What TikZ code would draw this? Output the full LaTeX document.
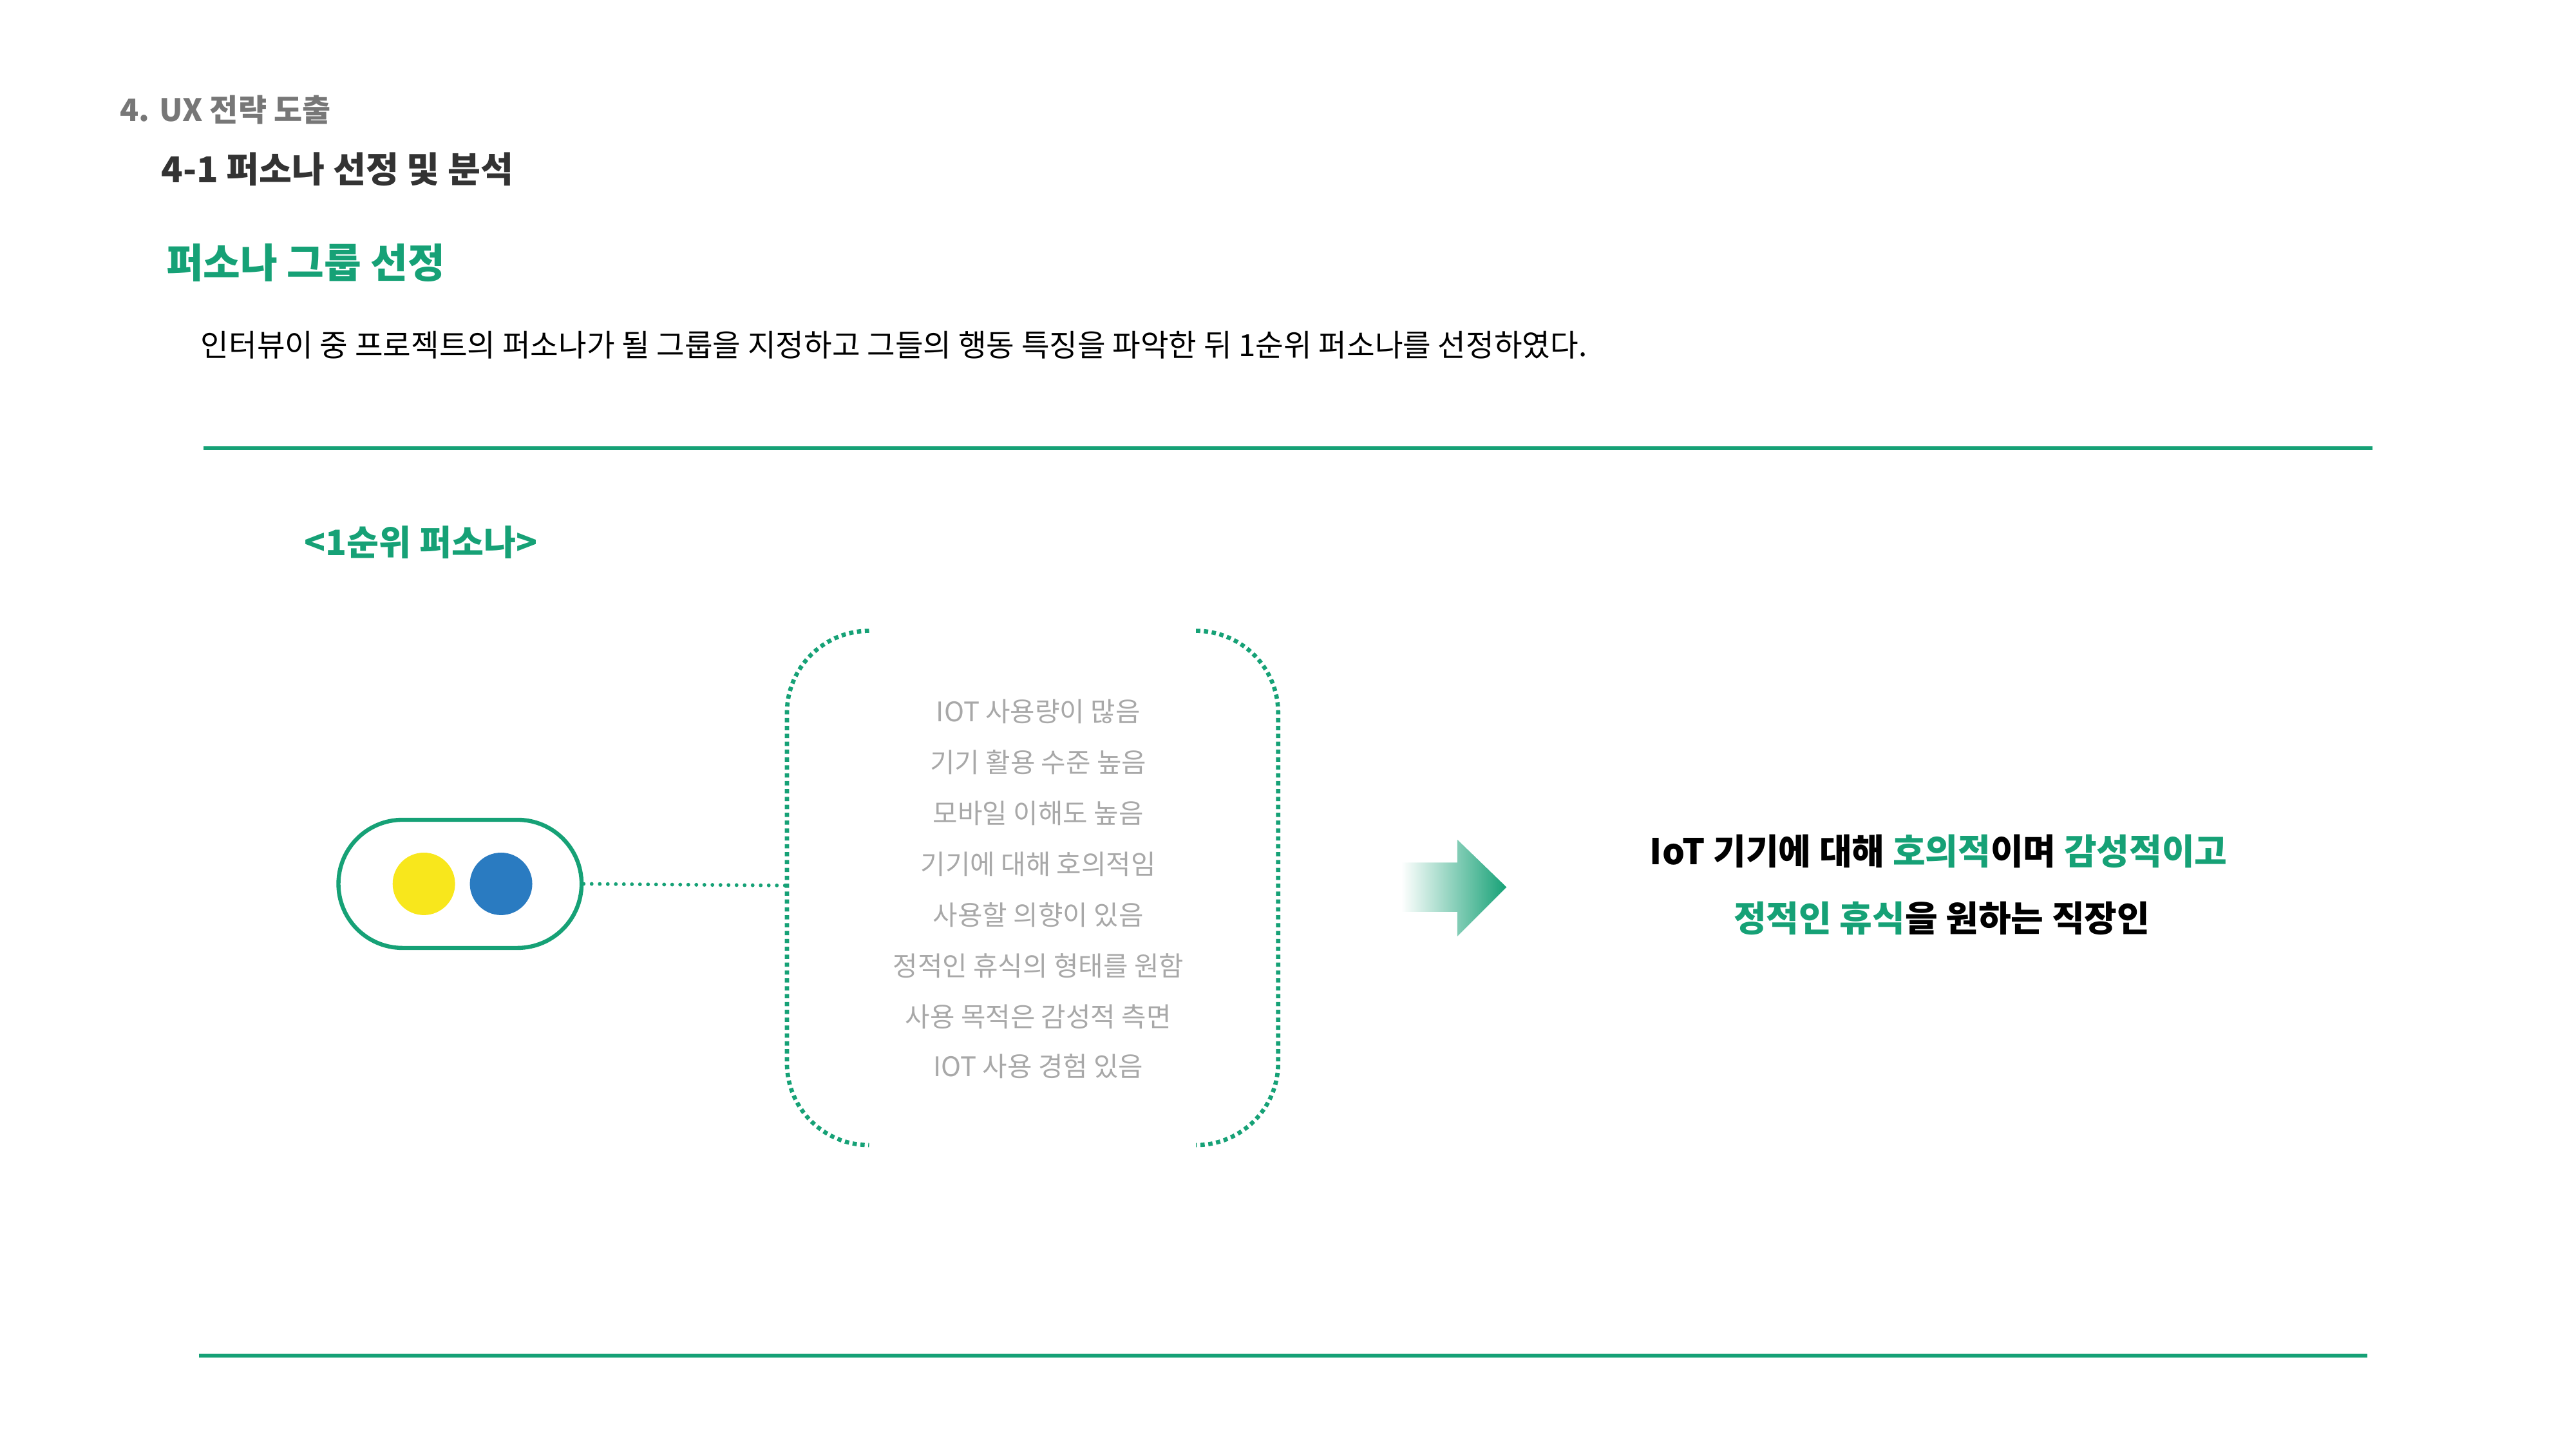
\documentclass[tikz,border=0pt]{standalone}
\usepackage{fontspec}
\setmainfont{Noto Sans CJK KR}
\definecolor{pverde}{HTML}{16A176}
\definecolor{pgris}{HTML}{777777}
\definecolor{poscuro}{HTML}{333333}
\definecolor{pclaro}{HTML}{A8A8A8}
\definecolor{pamarillo}{HTML}{F8E71C}
\definecolor{pazul}{HTML}{2A7BC1}
\tikzset{
	texto/.style={inner sep=0pt, anchor=west},
	rasgo/.style={inner sep=0pt, text=pclaro, font=\fontsize{16.4}{19}\selectfont},
	regla/.style={pverde, line width=2.4pt},
	punteado/.style={pverde, line width=2.3pt, line cap=round, dash pattern=on 0pt off 4.9pt},
	corchete/.style={pverde, line width=2.6pt, dash pattern=on 2.6pt off 2.2pt, rounded corners=50pt},
	pastilla/.style={draw=pverde, line width=2.5pt, rounded corners=39pt, minimum width=148pt, minimum height=78pt},
	bola/.style={circle, inner sep=0pt, minimum size=38pt},
	resumen/.style={inner sep=0pt, font=\bfseries\fontsize{21.6}{26}\selectfont},
}
\begin{document}
\begin{tikzpicture}[x=1pt, y=-1pt]
		\useasboundingbox (0,0) rectangle (1568,882);
		
		% Encabezados
		\node[texto, text=pgris, font=\bfseries\fontsize{18.8}{22}\selectfont] (seccion) at (73,67) {4. UX 전략 도출};
		\node[texto, text=poscuro, font=\bfseries\fontsize{21.7}{26}\selectfont] (subseccion) at (98,103) {4-1 퍼소나 선정 및 분석};
		\node[texto, text=pverde, font=\bfseries\fontsize{24.6}{29}\selectfont] (titulo) at (101,160) {퍼소나 그룹 선정};
		\node[texto, font=\fontsize{18.6}{22}\selectfont] (intro) at (122,210) {인터뷰이 중 프로젝트의 퍼소나가 될 그룹을 지정하고 그들의 행동 특징을 파악한 뒤 1순위 퍼소나를 선정하였다.};
		
		% Reglas verdes
		\draw[regla] (124,273) -- (1444,273);
		\draw[regla] (121,825) -- (1441,825);
		
		\node[texto, text=pverde, font=\bfseries\fontsize{21.3}{25}\selectfont] (rango) at (185,330) {<1순위 퍼소나>};
		
		% Persona
		\node[pastilla] (persona) at (280,538) {};
		\node[bola, fill=pamarillo] (amarillo) at (258,538) {};
		\node[bola, fill=pazul] (azul) at (305,538) {};
		
		% Corchetes punteados
		\coordinate (corcheteL) at (479,539);
		\draw[punteado] (persona.east) -- (corcheteL);
		\draw[corchete] (529,384) -- (479,384) -- (479,697) -- (529,697);
		\draw[corchete] (728,384) -- (778,384) -- (778,697) -- (728,697);
		
		% Rasgos
		\node[rasgo] (r1) at (632,433) {IOT 사용량이 많음};
		\node[rasgo] (r2) at (632,464) {기기 활용 수준 높음};
		\node[rasgo] (r3) at (632,495) {모바일 이해도 높음};
		\node[rasgo] (r4) at (632,526) {기기에 대해 호의적임};
		\node[rasgo] (r5) at (632,557) {사용할 의향이 있음};
		\node[rasgo] (r6) at (632,588) {정적인 휴식의 형태를 원함};
		\node[rasgo] (r7) at (632,619) {사용 목적은 감성적 측면};
		\node[rasgo] (r8) at (632,649) {IOT 사용 경험 있음};
		
		% Flecha degradada
		\shade[left color=white, right color=pverde] (853,525) -- (887,525) -- (887,511) -- (917,540) -- (887,570) -- (887,555) -- (853,555) -- cycle;
		
		% Resumen
		\node[resumen] (resumen1) at (1180,518) {IoT 기기에 대해 \textcolor{pverde}{호의적}이며 \textcolor{pverde}{감성적이고}};
		\node[resumen] (resumen2) at (1182,559) {\textcolor{pverde}{정적인 휴식}을 원하는 직장인};
	\end{tikzpicture}
\end{document}
